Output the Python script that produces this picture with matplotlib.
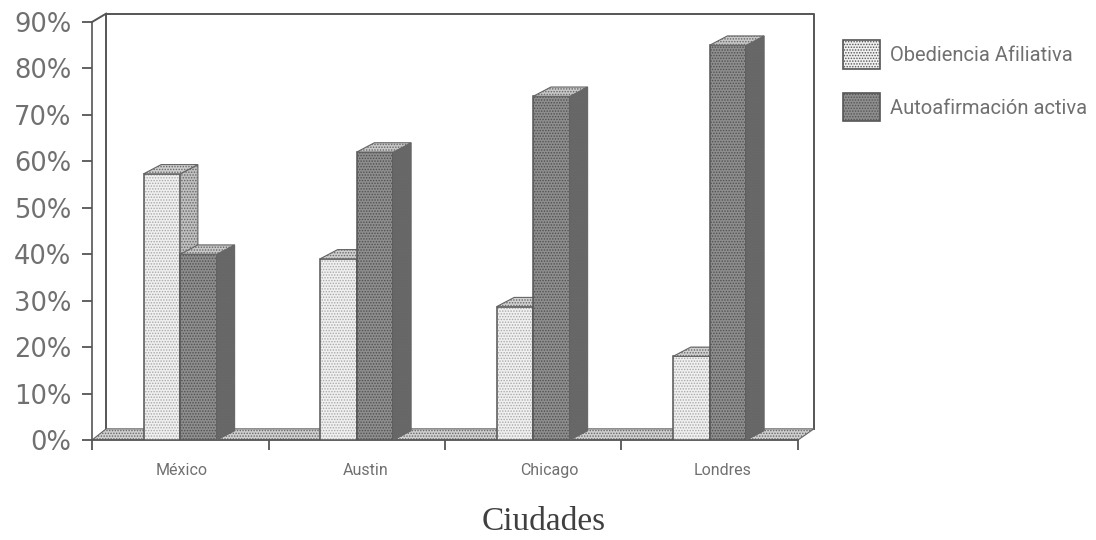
import matplotlib
matplotlib.use("Agg")
import matplotlib.pyplot as plt
from matplotlib.patches import Polygon, Patch
from matplotlib.ticker import PercentFormatter

ciudades = ["México", "Austin", "Chicago", "Londres"]
obediencia = [57.3, 39, 28.7, 18]
autoafirmacion = [40, 62, 74, 85]
yticks = [0, 10, 20, 30, 40, 50, 60, 70, 80, 90]
etiqueta_x = [0.505, 1.552, 2.59, 3.57]

LINE = "#555555"
TEXT = "#707070"
W, H = 1096, 540
bar_w = 0.208
dx, dy = 0.10, 2.0   # profundidad del efecto 3D, en unidades de datos

plt.rcParams["hatch.linewidth"] = 0.7

fig = plt.figure(figsize=(W / 100, H / 100), dpi=100)
ax = fig.add_axes([92 / W, 1 - 440 / H, 706 / W, 418 / H])
ax.set_xlim(0, 4)
ax.set_ylim(0, 90)
ax.patch.set_alpha(0)

for s in ["top", "right"]:
    ax.spines[s].set_visible(False)
for s in ["left", "bottom"]:
    ax.spines[s].set_color(LINE)
    ax.spines[s].set_linewidth(1.2)

ax.set_yticks(yticks)
ax.yaxis.set_major_formatter(PercentFormatter(decimals=0))
ax.tick_params(axis="y", length=7, width=1.3, color=LINE, labelsize=18.5,
               labelcolor=TEXT, pad=8)
ax.set_xticks(range(5))
ax.set_xticklabels([])
ax.tick_params(axis="x", length=7, width=1.3, color=LINE, direction="out")

# pared del fondo y piso
wall_x = [dx * 0.8, dx * 0.8, 4 + dx * 0.9, 4 + dx * 0.9]
wall_y = [2.4, 91.8, 91.8, 2.4]
ax.plot(wall_x, wall_y, color=LINE, lw=1.4, clip_on=False, zorder=1)
ax.plot([0, dx * 0.8], [90, 91.8], color=LINE, lw=1.4, clip_on=False, zorder=1)
ax.add_patch(Polygon([(0, 0), (dx * 0.8, 2.4), (4 + dx * 0.9, 2.4), (4, 0)],
                     facecolor="#d0d0d0", edgecolor="#666666", hatch="......", lw=0.8,
                     clip_on=False, zorder=2))


def barra(x, v, cara, trama, lado, techo, z):
    ax.bar(x, v, bar_w, align="edge", color=cara, edgecolor=trama, hatch="......",
           linewidth=0, zorder=z)
    ax.bar(x, v, bar_w, align="edge", fill=False, edgecolor=LINE, linewidth=1.1, zorder=z)
    ax.add_patch(Polygon([(x + bar_w, 0), (x + bar_w + dx, dy), (x + bar_w + dx, v + dy), (x + bar_w, v)],
                         facecolor=lado, edgecolor="#666666", lw=0.8, hatch="......", zorder=z))
    ax.add_patch(Polygon([(x, v), (x + dx, v + dy), (x + bar_w + dx, v + dy), (x + bar_w, v)],
                         facecolor=techo, edgecolor="#666666", lw=0.8, hatch="......", zorder=z))


for i, c in enumerate(ciudades):
    barra(i + 0.5 - bar_w, obediencia[i], "#f0f0f0", "#a8a8a8", "#c0c0c0", "#d0d0d0", 3)
    barra(i + 0.5, autoafirmacion[i], "#8e8e8e", "#505050", "#686868", "#c8c8c8", 4)
    ax.text(etiqueta_x[i], -6.6, c, ha="center", va="center", fontsize=11.5, color=TEXT,
            family=["Roboto", "Liberation Sans"])

fig.text(544 / W, 1 - 522 / H, "Ciudades", ha="center", va="center", fontsize=24,
         color="#404040", family="Liberation Serif")

handles = [Patch(facecolor="#f0f0f0", edgecolor="#555555", hatch="......", lw=1.2),
           Patch(facecolor="#8e8e8e", edgecolor="#555555", hatch="......", lw=1.2)]
fig.legend(handles, ["Obediencia Afiliativa", "Autoafirmación activa"],
           loc="upper left", bbox_to_anchor=(825 / W, 1 - 22 / H), frameon=False,
           handlelength=1.85, handleheight=1.8, handletextpad=0.5, labelspacing=1.2,
           labelcolor=TEXT, prop={"family": ["Roboto", "Liberation Sans"], "size": 14.5})

fig.savefig("out.png", dpi=100)
